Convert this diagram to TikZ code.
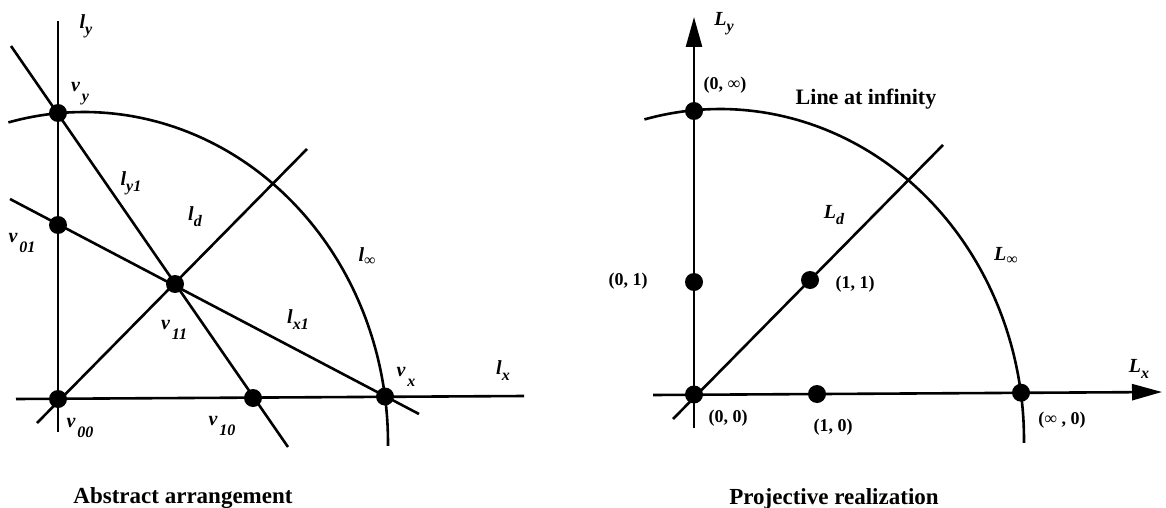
\documentclass[tikz,border=0pt]{standalone}
\usepackage{fontspec}
\setmainfont{Liberation Serif}
\usetikzlibrary{arrows.meta,calc}
\newcommand\ls[2]{{\fontsize{20}{20}\selectfont\bfseries\itshape #1}\raisebox{-6pt}{\fontsize{16}{16}\selectfont\bfseries\itshape #2}}
\newcommand\vs[2]{{\fontsize{20}{20}\selectfont\bfseries\itshape #1}\kern2pt\raisebox{-10pt}{\fontsize{16}{16}\selectfont\bfseries\itshape #2}}
\newcommand\linf[1]{{\fontsize{20}{20}\selectfont\bfseries\itshape #1}\raisebox{-4pt}{\fontsize{16}{16}\selectfont ∞}}
\tikzset{
  ln/.style={line width=2.6pt},
  dot/.style={circle, fill=black, inner sep=0pt, minimum size=18pt},
  lab/.style={inner sep=0pt},
  crd/.style={inner sep=0pt, font=\fontsize{18}{18}\selectfont\bfseries},
  captxt/.style={inner sep=0pt, anchor=base, font=\fontsize{23}{23}\selectfont\bfseries},
  axarrow/.style={ln, -{Triangle[length=30pt,width=16pt]}}
}
\begin{document}
\begin{tikzpicture}[x=1pt,y=-1pt]
\useasboundingbox (0,0) rectangle (1166,508);
% ---------- left: abstract arrangement ----------
\coordinate (lyT) at (58,21);
\coordinate (lyB) at (58,432);
\coordinate (lxL) at (16,399);
\coordinate (lxR) at (524,396);
\coordinate (ly1A) at (11,46);
\coordinate (ly1B) at (288,447);
\coordinate (lx1A) at (10,199);
\coordinate (lx1B) at (419,414);
\coordinate (ldA) at (37,423);
\coordinate (ldB) at (307,149);
\draw[ln] (lyT) -- (lyB);
\draw[ln] (lxL) -- (lxR);
\draw[ln] (ly1A) -- (ly1B);
\draw[ln] (lx1A) -- (lx1B);
\draw[ln] (ldA) -- (ldB);
\draw[ln] plot[domain=255.6:360.5, samples=90] ({84+304*cos(\x)},{443+331*sin(\x)});
\node[dot] (vy) at (58,113) {};
\node[dot] (v01) at (58,225) {};
\node[dot] (v00) at (58,399) {};
\node[dot] (v11) at (175,284) {};
\node[dot] (v10) at (253,398) {};
\node[dot] (vx) at (385,396.5) {};
\node[lab] (tly) at (86,26) {\ls{l}{y}};
\node[lab] (tvy) at (80,94) {\vs{v}{y}};
\node[lab] (tly1) at (131,183) {\ls{l}{y1}};
\node[lab] (tld) at (195,217) {\ls{l}{d}};
\node[lab] (tv01) at (22,243) {\vs{v}{01}};
\node[lab] (tlinf) at (367,257) {\linf{l}};
\node[lab] (tv11) at (174,330) {\vs{v}{11}};
\node[lab] (tlx1) at (298,320) {\ls{l}{x1}};
\node[lab] (tv00) at (80,428) {\vs{v}{00}};
\node[lab] (tv10) at (222,426) {\vs{v}{10}};
\node[lab] (tvx) at (406,377) {\vs{v}{x}};
\node[lab] (tlx) at (503,371) {\ls{l}{x}};
\node[captxt] (capA) at (183,503) {Abstract arrangement};
% ---------- right: projective realization ----------
\coordinate (LyB) at (694,428);
\coordinate (LyT) at (694,17);
\coordinate (LxL) at (653,395);
\coordinate (LxR) at (1162,392);
\coordinate (LdA) at (673,419);
\coordinate (LdB) at (943,145);
\draw[axarrow] (LyB) -- (LyT);
\draw[axarrow] (LxL) -- (LxR);
\draw[ln] (LdA) -- (LdB);
\draw[ln] plot[domain=255.6:360.5, samples=90] ({720+304*cos(\x)},{440+331*sin(\x)});
\node[dot] (p0inf) at (694,111) {};
\node[dot] (p01) at (694,282) {};
\node[dot] (p11) at (810,280) {};
\node[dot] (p00) at (694,394.5) {};
\node[dot] (p10) at (817,394) {};
\node[dot] (pinf0) at (1021,392.7) {};
\node[lab] (tLy) at (724,24) {\ls{L}{y}};
\node[crd] (t0inf) at (725,85) {(0, {\mdseries ∞})};
\node[captxt, anchor=center, font=\fontsize{22}{22}\selectfont\bfseries] (tline) at (866,99) {Line at infinity};
\node[lab] (tLd) at (834,215) {\ls{L}{d}};
\node[lab] (tLinf) at (1006,256) {\linf{L}};
\node[crd] (t01) at (628,281) {(0, 1)};
\node[crd] (t11) at (855,284) {(1, 1)};
\node[lab] (tLx) at (1139,369) {\ls{L}{x}};
\node[crd] (t00) at (728,418) {(0, 0)};
\node[crd] (t10) at (833,427) {(1, 0)};
\node[crd] (tinf0) at (1062,420) {({\mdseries ∞} , 0)};
\node[captxt] (capB) at (834,504) {Projective realization};
\end{tikzpicture}
\end{document}
